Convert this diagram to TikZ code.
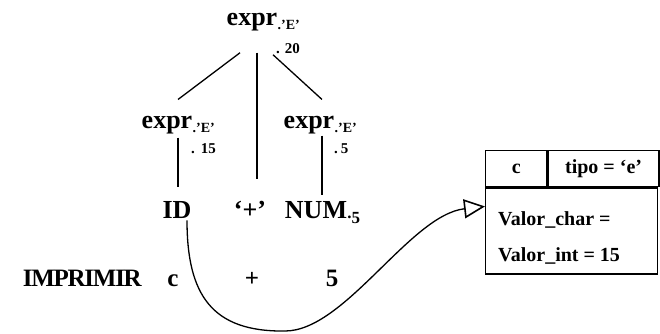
\documentclass[tikz,border=0pt]{standalone}
\usepackage{fontspec}
\setmainfont{Liberation Serif}
\usetikzlibrary{arrows.meta}

\tikzset{
  sym/.style={inner sep=0pt, font=\fontsize{26}{26}\selectfont\bfseries},
  tok/.style={inner sep=0pt, font=\fontsize{25}{25}\selectfont\bfseries},
  sub/.style={inner sep=0pt, font=\fontsize{14}{14}\selectfont\bfseries},
  val/.style={inner sep=0pt, font=\fontsize{15}{15}\selectfont\bfseries},
  cell/.style={draw, line width=1.4pt, inner sep=0pt, font=\fontsize{20}{20}\selectfont\bfseries},
  fld/.style={inner sep=0pt, font=\fontsize{20}{20}\selectfont\bfseries},
  edge/.style={line width=1.3pt}
}

\begin{document}
\begin{tikzpicture}[x=1pt, y=-1pt]
  \useasboundingbox (0,0) rectangle (660,333);

  % Parse tree
  \node[sym, anchor=base] (etop) at (252,25) {expr};
  \node[sub, anchor=base west] (etopsub) at ([yshift=-4pt]etop.base east) {.’E’};
  \node[val, anchor=base west] (etopval) at (276,53) {. 20};

  \node[sym, anchor=base] (exprL) at (167,128) {expr};
  \node[sub, anchor=base west] (exprLsub) at ([yshift=-4pt]exprL.base east) {.’E’};
  \node[val, anchor=base west] (exprLval) at (191,153) {.\hspace{6pt}15};

  \node[sym, anchor=base] (exprR) at (309,128) {expr};
  \node[sub, anchor=base west] (exprRsub) at ([yshift=-4pt]exprR.base east) {.’E’};
  \node[val, anchor=base west] (exprRval) at (334,153) {.\hspace{3pt}5};

  % Tokens
  \node[sym, anchor=base] (id) at (177,218) {ID};
  \node[sym, anchor=base] (plus) at (250,218) {‘+’};
  \node[sym, anchor=base] (num) at (316,218) {NUM};
  \node[inner sep=0pt, font=\fontsize{17}{17}\selectfont\bfseries, anchor=base west]
    (numsub) at (num.base east) {.\raisebox{-5pt}{5}};

  % Source line
  \node[tok, anchor=base east] (imprimir) at (142,286) {\addfontfeature{LetterSpace=-5}IMPRIMIR};
  \node[tok, anchor=base] (srcc) at (173,286) {c};
  \node[tok, anchor=base] (srcplus) at (252,286) {+};
  \node[tok, anchor=base] (srcfive) at (332,286) {5};

  % Tree edges
  \draw[edge] ([xshift=-12pt,yshift=-22pt]etop.south) -- ([xshift=11pt,yshift=16pt]exprL.north);
  \draw[edge] ([xshift=5pt,yshift=-22pt]etop.south) -- ([xshift=7pt,yshift=22pt]plus.north);
  \draw[edge] ([xshift=21pt,yshift=-24pt]etop.south) -- ([xshift=13pt,yshift=16pt]exprR.north);
  \draw[edge] ([xshift=11pt,yshift=-4pt]exprL.south) -- ([xshift=1pt,yshift=14pt]id.north);
  \draw[edge] ([xshift=13pt,yshift=-2pt]exprR.south) -- ([xshift=6pt,yshift=6pt]num.north);

  % Symbol table entry
  \node[cell, minimum width=61pt, minimum height=36pt, anchor=north west] (cellc) at (485,150) {c};
  \node[cell, minimum width=111pt, minimum height=36pt, anchor=north west] (celltipo) at (cellc.north east) {tipo = ‘e’};
  \node[cell, minimum width=172pt, minimum height=86pt, anchor=north west] (body) at (cellc.south west) {};
  \node[fld, anchor=base west] (vchar) at ([xshift=13pt,yshift=-38pt]body.north west) {Valor\_char =};
  \node[fld, anchor=base west] (vint) at ([yshift=-36pt]vchar.base west) {Valor\_int = 15};

  % Pointer from ID to the entry
  \draw[edge, -{Triangle[open, length=21pt, width=19pt, line width=1.6pt]}]
    ([xshift=10pt,yshift=-2pt]id.south) .. controls (187,295) and (212,332) .. (285,331)
    .. controls (345,331) and (410,215) .. ([yshift=-19pt]body.north west);
\end{tikzpicture}
\end{document}
